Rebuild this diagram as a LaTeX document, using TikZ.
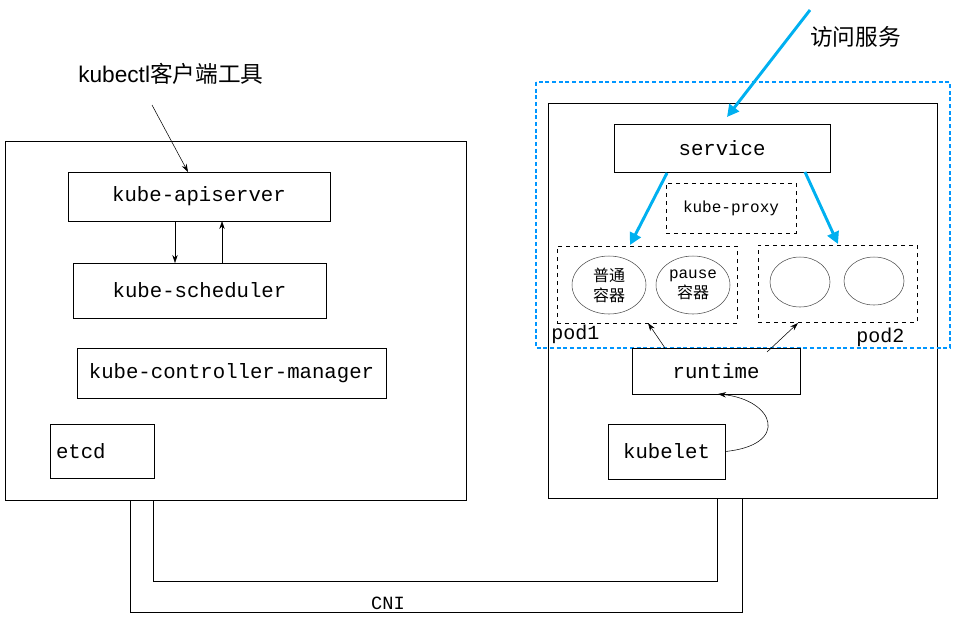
\documentclass[tikz,border=0pt]{standalone}
\usepackage{fontspec}
\setmainfont{Liberation Mono}
\newfontfamily\cjk{Noto Sans CJK SC}
\newfontfamily\sans{Liberation Sans}
\usepackage{tikz}
\usetikzlibrary{arrows.meta, shapes.geometric}
\tikzset{
  box/.style={draw, inner sep=0pt, font=\fontsize{15.5}{17}\selectfont},
  dbox/.style={draw, dashed, inner sep=0pt},
  ctr/.style={draw=black!70, ellipse, inner sep=0pt, align=center, font=\fontsize{12}{15}\selectfont},
  thin arrow/.style={-{Stealth[length=6pt,width=4pt]}},
  blue arrow/.style={draw={rgb,255:red,0;green,176;blue,240}, line width=2.2pt, -{Triangle[length=9pt,width=9pt]}}
}
\begin{document}
\begin{tikzpicture}[x=0.75pt,y=-0.75pt]
\useasboundingbox (0,0) rectangle (962,626);

%Left node (master)
\draw  (5,141) rectangle (466,500);
\node [box, minimum width=262*0.75pt, minimum height=49*0.75pt] (api) at (199,196.5) {kube-apiserver};
\node [box, minimum width=253*0.75pt, minimum height=55*0.75pt] (sched) at (199.5,290.5) {kube-scheduler};
\node [box, minimum width=309*0.75pt, minimum height=50*0.75pt] (cm) at (231.5,373) {kube-controller-manager};
\node [box, minimum width=104*0.75pt, minimum height=54*0.75pt, text width=92*0.75pt] (etcd) at (102,451) {etcd};
\draw [thin arrow] (175,221) -- (175,263);
\draw [thin arrow] (222,263) -- (222,221);

% Text Node
\node [anchor=west, inner sep=0pt, font=\fontsize{17}{18}\selectfont] (kubectl) at (78,74) {{\sans kubectl}{\cjk 客户端工具}};
\coordinate (kc) at (152,105);
\draw [thin arrow] (kc) -- (188,172);

%Right node (worker)
\draw  (548,103) rectangle (937,498);
\draw [draw={rgb,255:red,0;green,150;blue,255}, line width=1.6pt, dash pattern={on 3pt off 2pt}] (536,82) rectangle (950,348);
\node [box, minimum width=216*0.75pt, minimum height=48*0.75pt] (svc) at (722,148) {service};
\node [dbox, minimum width=130*0.75pt, minimum height=50*0.75pt, font=\fontsize{12}{13}\selectfont] (proxy) at (731,208) {kube-proxy};
\node [dbox, minimum width=180*0.75pt, minimum height=77*0.75pt] (pod1) at (647,284.5) {};
\node [dbox, minimum width=159*0.75pt, minimum height=77*0.75pt] (pod2) at (837.5,283.5) {};
\node [ctr, minimum width=74*0.75pt, minimum height=58*0.75pt] (c1) at (609,285) {{\cjk 普通}\\{\cjk 容器}};
\node [ctr, minimum width=74*0.75pt, minimum height=58*0.75pt] (c2) at (693,285) {pause\\{\cjk 容器}};
\node [ctr, minimum width=60*0.75pt, minimum height=50*0.75pt] (c3) at (800,282) {};
\node [ctr, minimum width=60*0.75pt, minimum height=48*0.75pt] (c4) at (874,281) {};
\node [anchor=west, inner sep=0pt, font=\fontsize{15}{16}\selectfont] (p1) at (551,334) {pod1};
\node [anchor=west, inner sep=0pt, font=\fontsize{15}{16}\selectfont] (p2) at (856,337) {pod2};
\node [box, fill=white, minimum width=168*0.75pt, minimum height=46*0.75pt] (rt) at (716,371) {runtime};
\node [box, minimum width=117*0.75pt, minimum height=55*0.75pt] (klt) at (666.5,451.5) {kubelet};
\draw [thin arrow] (665,348) -- (648,323);
\draw [thin arrow] (767,352) -- (798,323);
\draw [thin arrow] (klt.east) .. controls (790,445) and (775,400) .. (718,394);

%Blue arrows
\coordinate (user) at (810,10);
\draw [blue arrow] (user) -- (727,117);
\draw [blue arrow] (667,173) -- (630,245);
\draw [blue arrow] (805,172) -- (838,244);
\node [anchor=west, inner sep=0pt, font=\fontsize{17}{18}\selectfont\cjk] (visit) at (810,37) {访问服务};

%CNI
\draw (130,500) -- (130,612) -- (742,612) -- (742,498);
\draw (153,500) -- (153,581) -- (717,581) -- (717,498);
\node [inner sep=0pt, font=\fontsize{14}{15}\selectfont] (cni) at (388,603) {CNI};
\end{tikzpicture}
\end{document}
